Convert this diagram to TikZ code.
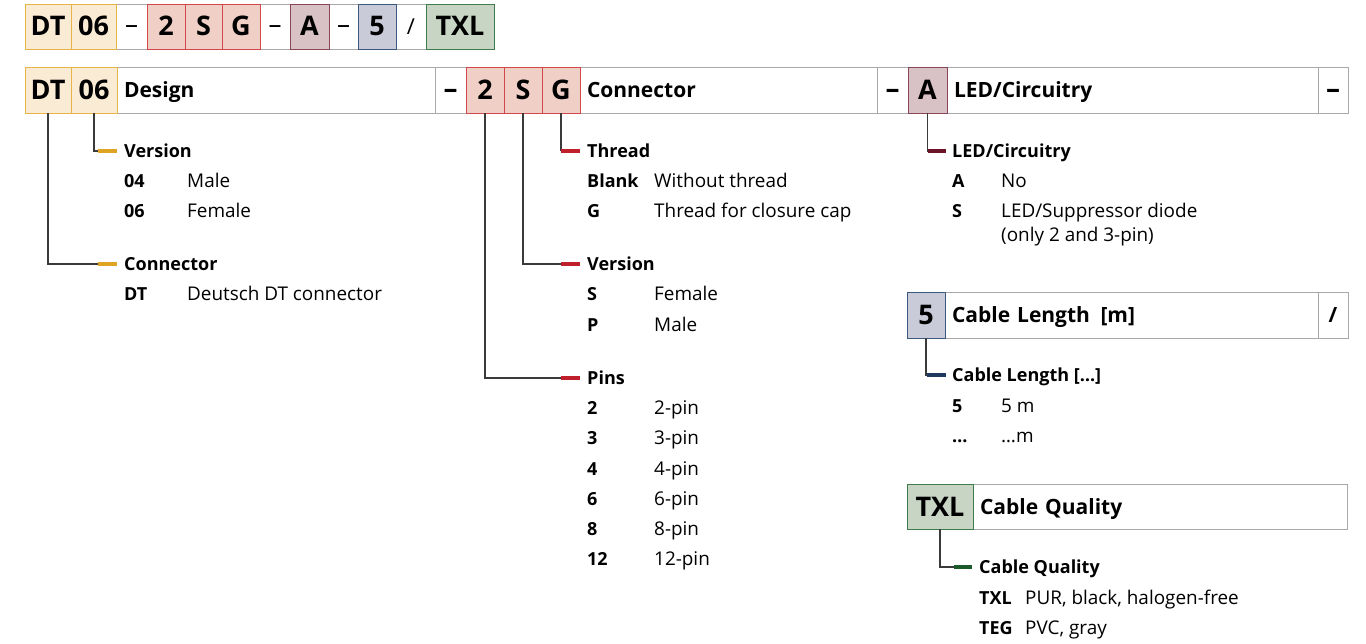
\documentclass[tikz,border=0pt]{standalone}
\usepackage{fontspec}
\setmainfont{Open Sans}
\usetikzlibrary{positioning}

\definecolor{dtfill}{HTML}{FAEBD5}
\definecolor{dtline}{HTML}{E6B449}
\definecolor{dtmark}{HTML}{E0A424}
\definecolor{cofill}{HTML}{F0D0C6}
\definecolor{coline}{HTML}{D0484C}
\definecolor{comark}{HTML}{C0202C}
\definecolor{ledfill}{HTML}{D9C2C6}
\definecolor{ledline}{HTML}{8A4656}
\definecolor{ledmark}{HTML}{6A1628}
\definecolor{lenfill}{HTML}{C9CBD8}
\definecolor{lenline}{HTML}{3A5880}
\definecolor{lenmark}{HTML}{1E3A60}
\definecolor{cabfill}{HTML}{C8D5C5}
\definecolor{cabline}{HTML}{3E7C4C}
\definecolor{cabmark}{HTML}{1C5A2C}
\definecolor{cellgray}{HTML}{A8A8A8}
\definecolor{leadgray}{HTML}{3A3A3A}

\begin{document}
\begin{tikzpicture}[x=1pt,y=-1pt,
    cell/.style={draw=cellgray, line width=0.9pt, fill=white, inner sep=0pt, outer sep=0pt,
      anchor=north west, minimum height=46pt},
    topcell/.style={cell, minimum height=45pt, text height=19pt, text depth=0pt,
      font=\fontsize{27}{27}\selectfont\bfseries},
    topsep/.style={cell, minimum height=45pt, text height=14pt, text depth=0pt,
      font=\fontsize{26}{26}\selectfont},
    codecell/.style={cell, text height=19pt, text depth=0pt, font=\fontsize{27}{27}\selectfont\bfseries},
    sepcell/.style={cell, text height=18pt, text depth=0pt, font=\fontsize{28}{28}\selectfont\bfseries},
    titlecell/.style={cell, inner xsep=7pt, align=left, text height=15pt, text depth=0pt,
      font=\fontsize{21}{21}\selectfont\bfseries},
    dt/.style={fill=dtfill, draw=dtline},
    co/.style={fill=cofill, draw=coline},
    led/.style={fill=ledfill, draw=ledline},
    len/.style={fill=lenfill, draw=lenline},
    cab/.style={fill=cabfill, draw=cabline},
    desc/.style={anchor=west, inner sep=0pt, text height=13pt, text depth=0pt,
      font=\fontsize{18.9}{18.9}\selectfont},
    head/.style={desc, font=\fontsize{18}{18}\selectfont\bfseries},
    key/.style={head},
    lead/.style={draw=leadgray, line width=1.2pt},
    flag/.style={line width=4pt}]

  \useasboundingbox (0,0) rectangle (1366,644);

  % top row: the full order code
  \node[topsep, minimum width=31pt] (ts1) at (116,4) {\textendash};
  \node[topsep, minimum width=30pt] (ts2) at (260,4) {\textendash};
  \node[topsep, minimum width=29pt] (ts3) at (329,4) {\textendash};
  \node[topsep, minimum width=30pt, text height=17pt, font=\fontsize{22}{22}\selectfont] (ts4) at (396,4) {/};
  \node[topcell, dt, minimum width=46pt] (tdt) at (25,4) {DT};
  \node[topcell, dt, minimum width=45pt] (t06) at (71,4) {06};
  \node[topcell, co, minimum width=38pt] (t2) at (147,4) {2};
  \node[topcell, co, minimum width=37pt] (ts) at (185,4) {S};
  \node[topcell, co, minimum width=38pt] (tg) at (222,4) {G};
  \node[topcell, led, minimum width=39pt] (ta) at (290,4) {A};
  \node[topcell, len, minimum width=38pt] (t5) at (358,4) {5};
  \node[topcell, cab, minimum width=68pt] (ttxl) at (426,4) {TXL};

  % second row
  \node[titlecell, text width=304pt] (tdesign) at (117,67) {Design};
  \node[sepcell, minimum width=31pt] (s1) at (435,67) {\textendash};
  \node[titlecell, text width=283pt] (tconn) at (580,67) {Connector};
  \node[sepcell, minimum width=31pt] (s2) at (877,67) {\textendash};
  \node[titlecell, text width=357pt] (tled) at (947,67) {LED/Circuitry};
  \node[sepcell, minimum width=30pt] (s3) at (1318,67) {\textendash};
  \node[codecell, dt, minimum width=46pt] (cdt) at (25,67) {DT};
  \node[codecell, dt, minimum width=46pt] (c06) at (71,67) {06};
  \node[codecell, co, minimum width=38pt] (c2) at (466,67) {2};
  \node[codecell, co, minimum width=38pt] (cs) at (504,67) {S};
  \node[codecell, co, minimum width=38pt] (cg) at (542,67) {G};
  \node[codecell, led, minimum width=39pt] (ca) at (908,67) {A};

  % cable length row
  \node[titlecell, text width=359pt] (tlen) at (945,292) {Cable Length\enspace[m]};
  \node[sepcell, minimum width=30pt, text height=15pt, font=\fontsize{21}{21}\selectfont\bfseries] (s4) at (1318,292) {/};
  \node[codecell, len, minimum width=38pt] (c5) at (907,292) {5};

  % cable quality row
  \node[titlecell, minimum height=45pt, text width=360pt] (tcab) at (973,484) {Cable Quality};
  \node[codecell, cab, minimum height=45pt, minimum width=66pt] (ctxl) at (907,484) {TXL};

  % design: version
  \node[head] (hver) at (124,151) {Version};
  \node[key] (k04) at (124,181) {04};
  \node[desc] (d04) at (187,181) {Male};
  \node[key] (k06) at (124,211) {06};
  \node[desc] (d06) at (187,211) {Female};
  % design: connector
  \node[head] (hdt) at (124,264) {Connector};
  \node[key] (kdt) at (124,294) {DT};
  \node[desc] (ddt) at (187,294) {Deutsch DT connector};

  % connector: thread
  \node[head] (hthr) at (587,151) {Thread};
  \node[key] (kblank) at (587,181) {Blank};
  \node[desc] (dblank) at (654,181) {Without thread};
  \node[key] (kg) at (587,211) {G};
  \node[desc] (dg) at (654,211) {Thread for closure cap};
  % connector: version
  \node[head] (hsex) at (587,264) {Version};
  \node[key] (ks) at (587,294) {S};
  \node[desc] (dsf) at (654,294) {Female};
  \node[key] (kp) at (587,325) {P};
  \node[desc] (dpm) at (654,325) {Male};
  % connector: pins
  \node[head] (hpins) at (587,378) {Pins};
  \foreach \k [count=\i] in {2,3,4,6,8,12} {
    \node[key] (pk\i) at (587,378+30.2*\i) {\k};
    \node[desc] (pd\i) at (654,378+30.2*\i) {\k-pin};
  }

  % led/circuitry
  \node[head] (hled) at (952,151) {LED/Circuitry};
  \node[key] (ka) at (952,181) {A};
  \node[desc] (dno) at (1001,181) {No};
  \node[key] (kls) at (952,211) {S};
  \node[desc] (dls) at (1001,211) {LED/Suppressor diode};
  \node[desc] (dls2) at (1001,235) {(only 2 and 3-pin)};

  % cable length
  \node[head] (hlen) at (952,375) {Cable Length […]};
  \node[key] (k5) at (952,406) {5};
  \node[desc] (d5) at (1001,406) {5 m};
  \node[key] (kdots) at (952,436) {…};
  \node[desc] (ddots) at (1001,436) {…m};

  % cable quality
  \node[head] (hcab) at (979,567) {Cable Quality};
  \node[key] (ktxl) at (979,598) {TXL};
  \node[desc] (dtxl) at (1025,598) {PUR, black, halogen-free};
  \node[key] (kteg) at (979,628) {TEG};
  \node[desc] (dteg) at (1025,628) {PVC, gray};

  % 06 to version
  \draw[lead] (c06.south) |- ([xshift=-26pt]hver.west);
  \draw[flag, dtmark] ([xshift=-26pt]hver.west) -- ([xshift=-7pt]hver.west);
  % dt to connector
  \draw[lead] (cdt.south) |- ([xshift=-26pt]hdt.west);
  \draw[flag, dtmark] ([xshift=-26pt]hdt.west) -- ([xshift=-7pt]hdt.west);

  % g to thread
  \draw[lead] (cg.south) |- ([xshift=-26pt]hthr.west);
  \draw[flag, comark] ([xshift=-26pt]hthr.west) -- ([xshift=-7pt]hthr.west);
  % s to version
  \draw[lead] (cs.south) |- ([xshift=-26pt]hsex.west);
  \draw[flag, comark] ([xshift=-26pt]hsex.west) -- ([xshift=-7pt]hsex.west);
  % 2 to pins
  \draw[lead] (c2.south) |- ([xshift=-26pt]hpins.west);
  \draw[flag, comark] ([xshift=-26pt]hpins.west) -- ([xshift=-7pt]hpins.west);

  % a to led/circuitry
  \draw[lead] (ca.south) |- ([xshift=-24pt]hled.west);
  \draw[flag, ledmark] ([xshift=-24pt]hled.west) -- ([xshift=-6pt]hled.west);
  % 5 to cable length
  \draw[lead] (c5.south) |- ([xshift=-25pt]hlen.west);
  \draw[flag, lenmark] ([xshift=-25pt]hlen.west) -- ([xshift=-6pt]hlen.west);
  % txl to cable quality
  \draw[lead] (ctxl.south) |- ([xshift=-25pt]hcab.west);
  \draw[flag, cabmark] ([xshift=-25pt]hcab.west) -- ([xshift=-7pt]hcab.west);
\end{tikzpicture}
\end{document}
